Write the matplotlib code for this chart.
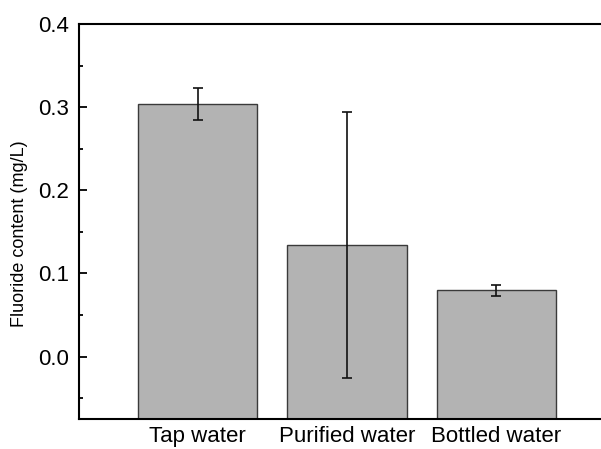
"""Fluoride content by water type: bar chart with error bars."""

import matplotlib

matplotlib.use("Agg")
import matplotlib.pyplot as plt
from matplotlib.ticker import MultipleLocator

categories = ["Tap water", "Purified water", "Bottled water"]
fluoride_mg_l = [0.304, 0.134, 0.080]
fluoride_err = [0.019, 0.160, 0.0065]

plt.rcParams["font.family"] = ["Liberation Sans", "DejaVu Sans"]

Y_MIN, Y_MAX = -0.075, 0.4

fig = plt.figure(figsize=(6.01, 4.49), dpi=100)
ax = fig.add_axes([79 / 601, 1 - 419 / 449, 1 - 79 / 601 + 0.01, (419 - 24) / 449])

positions = list(range(1, len(categories) + 1))
# Столбцы начинаются от нижней границы оси, как в оригинале.
heights = [v - Y_MIN for v in fluoride_mg_l]
ax.bar(
    positions,
    heights,
    bottom=Y_MIN,
    width=0.8,
    color="#b3b3b3",
    edgecolor="#3a3a3a",
    linewidth=1.0,
)
ax.errorbar(
    positions,
    fluoride_mg_l,
    yerr=fluoride_err,
    fmt="none",
    ecolor="#111111",
    elinewidth=1.2,
    capsize=3.5,
    capthick=1.2,
)

ax.set_xlim(0.207, 3.74)
ax.set_ylim(Y_MIN, Y_MAX)
ax.set_xticks(positions)
ax.set_xticklabels(categories, fontsize=16)
ax.tick_params(axis="x", length=0, pad=5)

ax.yaxis.set_minor_locator(MultipleLocator(0.05))
ax.set_yticks([0.0, 0.1, 0.2, 0.3, 0.4])
ax.set_yticklabels(["0.0", "0.1", "0.2", "0.3", "0.4"], fontsize=16)
ax.tick_params(axis="y", which="major", direction="in", length=6, width=1.3, pad=7)
ax.tick_params(axis="y", which="minor", direction="in", length=3, width=1.3)

ax.set_ylabel("Fluoride content (mg/L)", fontsize=13)
ax.yaxis.set_label_coords(-0.097, 0.47)

for side in ("left", "top", "bottom"):
    ax.spines[side].set_linewidth(1.5)
ax.spines["right"].set_visible(False)

fig.savefig("out.png", dpi=100)
